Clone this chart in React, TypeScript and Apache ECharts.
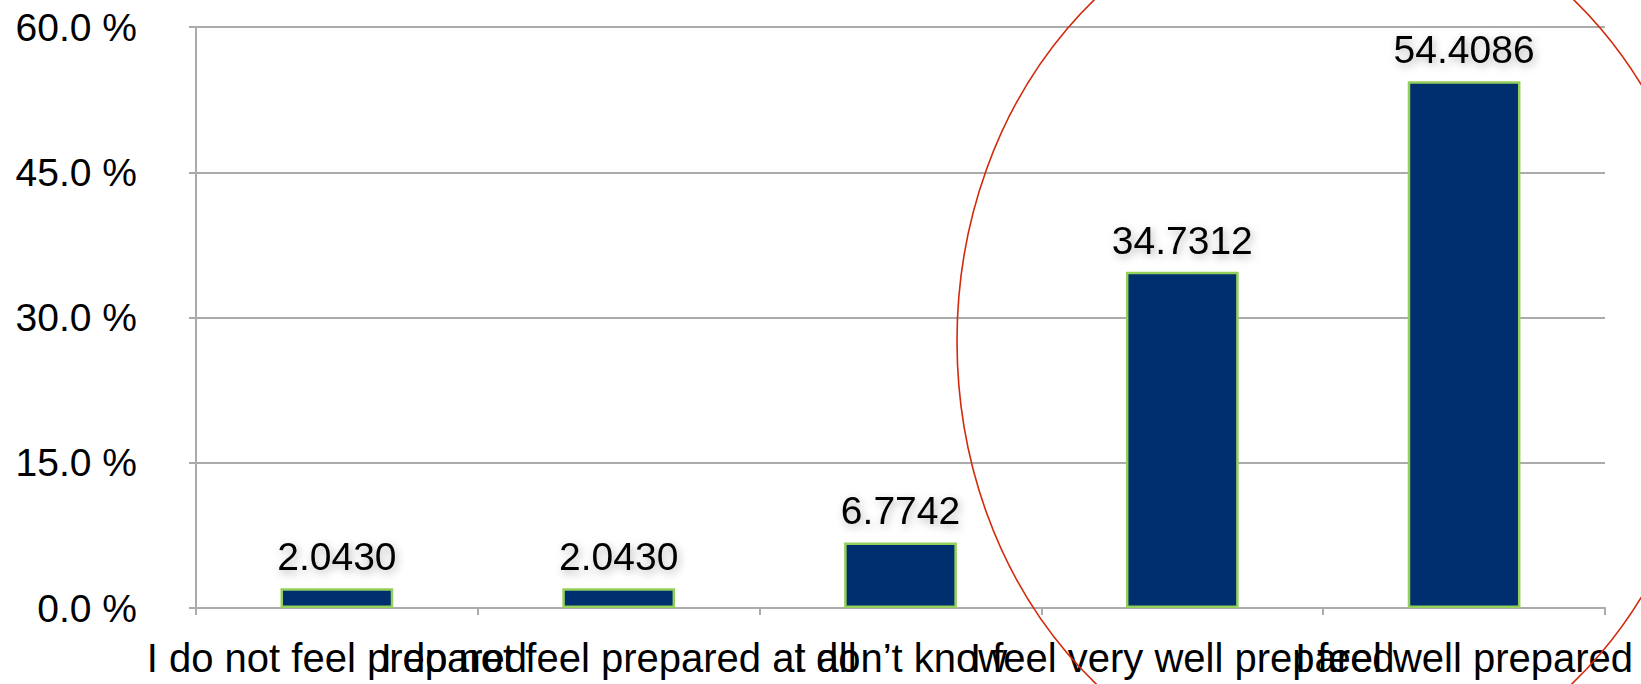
import React, { useEffect, useRef } from "react";
import * as echarts from "echarts";

const categories: string[] = [
  "I do not feel prepared",
  "I do not feel prepared at all",
  "I don\u2019t know",
  "I feel very well prepared",
  "I feel well prepared",
];
const values: number[] = [2.043, 2.043, 6.7742, 34.7312, 54.4086];
const yMin = 0;
const yMax = 60;
const yInterval = 15;

const FONT = "'Liberation Sans', Arial, Helvetica, sans-serif";

export default function App() {
  const ref = useRef<HTMLDivElement>(null);
  useEffect(() => {
    if (!ref.current) return;
    const chart = echarts.init(ref.current, undefined, { renderer: "svg" });
    chart.setOption({
      animation: false,
      backgroundColor: "#ffffff",
      grid: { left: 196, right: 36, top: 27, bottom: 76, containLabel: false },
      xAxis: {
        type: "category",
        data: categories,
        axisLine: { show: true, lineStyle: { color: "#ababab", width: 2 } },
        axisTick: { show: true, length: 7, lineStyle: { color: "#ababab", width: 2 } },
        axisLabel: {
          interval: 0,
          color: "#000",
          fontFamily: FONT,
          fontSize: 40,
          margin: 30,
          hideOverlap: false,
        },
        splitLine: { show: false },
      },
      yAxis: {
        type: "value",
        min: yMin,
        max: yMax,
        interval: yInterval,
        axisLine: { show: true, lineStyle: { color: "#ababab", width: 2 } },
        axisTick: { show: true, length: 7, lineStyle: { color: "#ababab", width: 2 } },
        axisLabel: {
          color: "#000",
          fontFamily: FONT,
          fontSize: 39,
          margin: 59,
          formatter: (v: number) => v.toFixed(1) + " %",
        },
        splitLine: { show: true, lineStyle: { color: "#ababab", width: 2 } },
      },
      series: [
        {
          type: "bar",
          data: values,
          barWidth: "40%",
          itemStyle: {
            color: "#002f6f",
            borderColor: "#94cf5c",
            borderWidth: 2.5,
          },
          label: {
            show: true,
            position: "top",
            distance: 12,
            color: "#000",
            fontFamily: FONT,
            fontSize: 39,
            formatter: (p: any) => Number(p.value).toFixed(4),
            textShadowColor: "rgba(0,0,0,0.3)",
            textShadowBlur: 8,
            textShadowOffsetX: 2,
            textShadowOffsetY: 3,
          },
        },
      ],
      graphic: [
        {
          type: "ellipse",
          z: 100,
          shape: { cx: 1334, cy: 341, rx: 377, ry: 442 },
          style: { fill: "none", stroke: "#d22a0c", lineWidth: 1.6 },
          silent: true,
        },
      ],
    });
    return () => chart.dispose();
  }, []);
  return (
    <div
      ref={ref}
      style={{ position: "fixed", left: 0, top: 0, width: 1641, height: 684 }}
    />
  );
}
